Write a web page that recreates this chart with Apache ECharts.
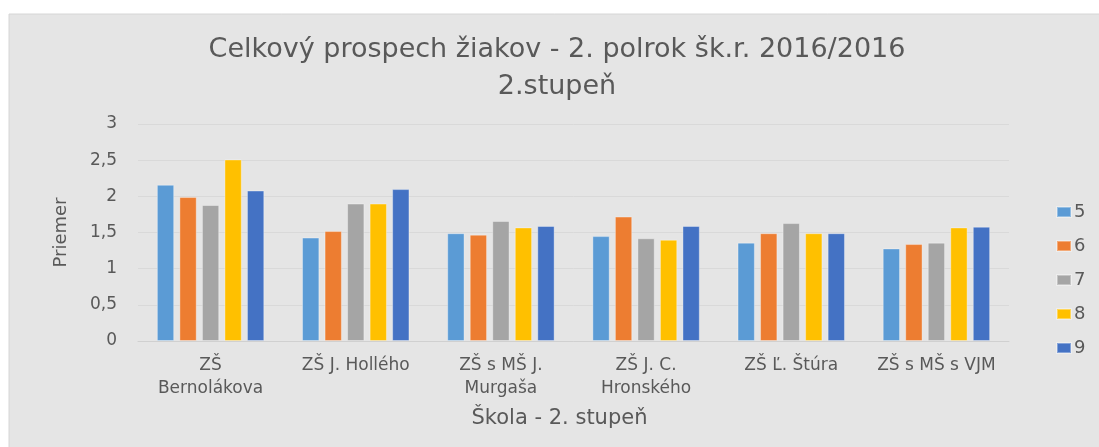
<!DOCTYPE html>
<html>
<head>
<meta charset="utf-8">
<script src="https://cdn.jsdelivr.net/npm/echarts@6/dist/echarts.min.js"></script>
<style>
  html, body { margin: 0; padding: 0; background: #fff; }
  #chart { width: 1099px; height: 447px; }
</style>
</head>
<body>
<div id="chart"></div>
<script>
// skoly a priemery podla rocnika
const schools = ["ZŠ Bernolákova", "ZŠ J. Hollého", "ZŠ s MŠ J. Murgaša", "ZŠ J. C. Hronského", "ZŠ Ľ. Štúra", "ZŠ s MŠ s VJM"];
const grades = ["5", "6", "7", "8", "9"];
const grade5 = [2.16, 1.43, 1.49, 1.45, 1.36, 1.28];
const grade6 = [1.99, 1.52, 1.47, 1.72, 1.49, 1.34];
const grade7 = [1.88, 1.90, 1.66, 1.42, 1.63, 1.36];
const grade8 = [2.51, 1.90, 1.57, 1.40, 1.49, 1.57];
const grade9 = [2.08, 2.10, 1.59, 1.59, 1.49, 1.58];
const yTicks = [0, 0.5, 1, 1.5, 2, 2.5, 3];

const colors = ["#5B9BD5", "#ED7D31", "#A5A5A5", "#FFC000", "#4472C4"];
const textColor = "#595959";
const font = "DejaVu Sans";

// zalamovanie popisov podla poctu znakov (ako v Exceli)
function wrap(label, maxChars) {
  const words = label.split(" ");
  const lines = [];
  let line = "";
  words.forEach(function (w) {
    const next = line ? line + " " + w : w;
    if (next.length > maxChars && line) {
      lines.push(line);
      line = w;
    } else {
      line = next;
    }
  });
  lines.push(line);
  return lines.join("\n");
}

const myChart = echarts.init(document.getElementById("chart"));

const values = [grade5, grade6, grade7, grade8, grade9];
const series = grades.map(function (g, i) {
  return {
    name: g,
    type: "bar",
    data: values[i],
    barGap: "30%",
    barCategoryGap: "26%",
    itemStyle: {
      color: colors[i],
      borderColor: "rgba(255,255,255,0.35)",
      borderWidth: 1
    }
  };
});

const option = {
  backgroundColor: "#fff",
  animation: false,
  color: colors,
  // sivy panel grafu
  graphic: [
    {
      type: "rect",
      z: -10,
      shape: { x: 9, y: 14, width: 1095, height: 440 },
      style: { fill: "#e5e5e5", stroke: "#d6d6d6", lineWidth: 1 }
    }
  ],
  title: {
    text: "Celkový prospech žiakov - 2. polrok šk.r. 2016/2016\n2.stupeň",
    left: 557,
    top: 31,
    padding: 0,
    textAlign: "center",
    textStyle: {
      fontFamily: font,
      fontSize: 27,
      fontWeight: "normal",
      lineHeight: 37,
      color: textColor
    }
  },
  legend: {
    orient: "vertical",
    left: 1051,
    top: 198,
    itemWidth: 14,
    itemHeight: 10,
    itemGap: 16,
    icon: "rect",
    data: grades,
    textStyle: {
      fontFamily: font,
      fontSize: 18,
      lineHeight: 18,
      color: textColor,
      padding: [0, 0, 0, -2]
    }
  },
  grid: {
    left: 138,
    right: 90,
    top: 124,
    bottom: 106
  },
  xAxis: {
    type: "category",
    data: schools,
    name: "Škola - 2. stupeň",
    nameLocation: "middle",
    nameGap: 67,
    nameTextStyle: {
      fontFamily: font,
      fontSize: 21,
      color: textColor,
      padding: [0, 28, 0, 0]
    },
    axisLine: { lineStyle: { color: "#d0d0d0" } },
    axisTick: { show: false },
    axisLabel: {
      interval: 0,
      margin: 13,
      fontFamily: font,
      fontSize: 17,
      lineHeight: 23,
      color: textColor,
      formatter: function (v) {
        return wrap(v, 13);
      }
    }
  },
  yAxis: {
    type: "value",
    min: 0,
    max: 3,
    interval: 0.5,
    name: "Priemer",
    nameLocation: "middle",
    nameGap: 68,
    nameTextStyle: {
      fontFamily: font,
      fontSize: 18,
      color: textColor
    },
    axisLabel: {
      margin: 21,
      fontFamily: font,
      fontSize: 17,
      color: textColor,
      formatter: function (v) {
        return String(v).replace(".", ",");
      }
    },
    splitLine: { lineStyle: { color: "#d9d9d9" } }
  },
  series: series
};

myChart.setOption(option);
</script>
</body>
</html>
